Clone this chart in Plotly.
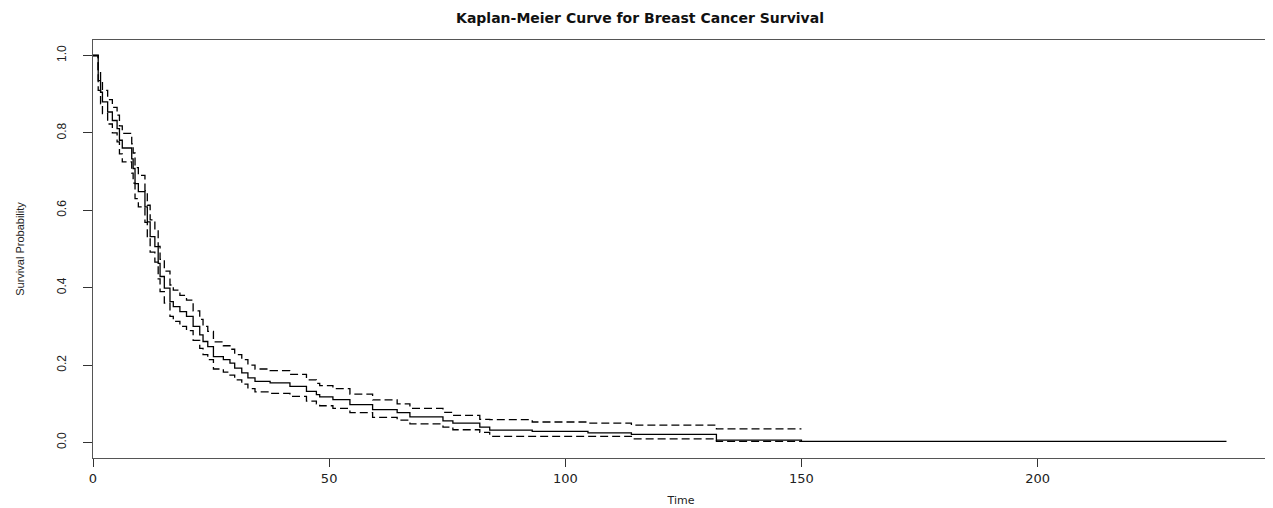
import plotly.graph_objects as go

# Kaplan-Meier estimate (time at which each step happens)
times = [0, 1.1, 1.6, 2.0, 3.1, 4.1, 5.1, 5.6, 6.2, 8.2, 8.5, 8.9, 9.6, 11.0, 11.5, 12.1,
         13.1, 13.8, 14.2, 15.1, 16.3, 17.0, 18.4, 19.8, 21.2, 22.6, 23.3, 24.3, 25.5,
         27.6, 29.0, 30.0, 31.5, 32.8, 34.3, 37.5, 41.7, 45.2, 47.3, 48.0, 50.8, 54.4,
         59.2, 64.4, 67.1, 74.1, 76.2, 81.9, 84.0, 93.0, 104.8, 114.0, 132.0, 150.0]
surv = [1.0, 0.935, 0.905, 0.88, 0.854, 0.832, 0.811, 0.781, 0.761, 0.733, 0.708, 0.669,
        0.648, 0.609, 0.570, 0.532, 0.506, 0.463, 0.429, 0.399, 0.364, 0.351, 0.338, 0.326,
        0.300, 0.278, 0.261, 0.248, 0.222, 0.214, 0.205, 0.192, 0.180, 0.167, 0.158, 0.154,
        0.145, 0.132, 0.124, 0.118, 0.111, 0.098, 0.085, 0.077, 0.066, 0.056, 0.050, 0.040,
        0.032, 0.029, 0.025, 0.021, 0.006, 0.003]
upper = [1.0, 0.96, 0.935, 0.91, 0.886, 0.866, 0.846, 0.818, 0.799, 0.772, 0.748, 0.71,
         0.69, 0.651, 0.613, 0.575, 0.55, 0.507, 0.473, 0.443, 0.407, 0.394, 0.38, 0.368,
         0.34, 0.318, 0.30, 0.287, 0.26, 0.25, 0.241, 0.227, 0.214, 0.20, 0.19, 0.186,
         0.176, 0.162, 0.153, 0.147, 0.139, 0.125, 0.11, 0.10, 0.088, 0.078, 0.07, 0.06,
         0.059, 0.053, 0.05, 0.045, 0.035, 0.035]
lower = [1.0, 0.91, 0.875, 0.85, 0.823, 0.80, 0.777, 0.746, 0.725, 0.696, 0.67, 0.63,
         0.609, 0.569, 0.53, 0.492, 0.466, 0.423, 0.39, 0.36, 0.326, 0.313, 0.30, 0.289,
         0.264, 0.243, 0.227, 0.214, 0.19, 0.182, 0.174, 0.162, 0.151, 0.139, 0.131, 0.127,
         0.119, 0.107, 0.10, 0.095, 0.088, 0.077, 0.065, 0.058, 0.048, 0.04, 0.033, 0.026,
         0.016, 0.016, 0.016, 0.0095, 0.003, 0.003]
end_time = 240
x_ticks = [0, 50, 100, 150, 200]
y_ticks = [0.0, 0.2, 0.4, 0.6, 0.8, 1.0]
y_tick_labels = ["0.0", "0.2", "0.4", "0.6", "0.8", "1.0"]

fig = go.Figure()
fig.add_trace(go.Scatter(x=times + [end_time], y=surv + [surv[-1]], mode="lines",
                         line=dict(shape="hv", color="black", width=1.3),
                         showlegend=False, hoverinfo="skip"))
for ci in (upper, lower):
    fig.add_trace(go.Scatter(x=times, y=ci, mode="lines",
                             line=dict(shape="hv", color="black", width=1.3, dash="8px,4px"),
                             showlegend=False, hoverinfo="skip"))

font = "Liberation Sans, Arial, sans-serif"
wide = "DejaVu Sans, Liberation Sans, sans-serif"
# the page body adds an 8px offset, so the figure is 8px smaller on each axis
fig.update_layout(
    width=1265, height=500,
    margin=dict(l=85, r=4, t=32, b=50, autoexpand=False),
    paper_bgcolor="white", plot_bgcolor="white",
    font=dict(family=font, color="#222222", size=12),
    title=dict(text="<b>Kaplan-Meier Curve for Breast Cancer Survival</b>",
               x=632 / 1265, xanchor="center", xref="container",
               y=1 - 10 / 500, yanchor="middle", yref="container",
               font=dict(size=14, color="#111111", family=wide)),
)
fig.update_xaxes(range=[0, 249], tickvals=x_ticks, ticks="outside", ticklen=8,
                 tickcolor="#333333", showline=True, linecolor="#555555", linewidth=1,
                 mirror=True, showgrid=False, zeroline=False, automargin=False,
                 ticklabelstandoff=0,
                 tickfont=dict(size=13, family=wide),
                 title=dict(text="Time", font=dict(size=11, family=wide), standoff=11))
fig.update_yaxes(range=[-0.04, 1.04], tickvals=y_ticks, ticktext=y_tick_labels,
                 tickangle=-90, ticks="outside", ticklen=9, tickcolor="#333333",
                 ticklabelstandoff=12,
                 showline=True, linecolor="#555555", linewidth=1, mirror=True,
                 showgrid=False, zeroline=False, automargin=False,
                 tickfont=dict(size=12, family=font),
                 title=dict(text="Survival Probability", font=dict(size=11, family=font),
                            standoff=28))

fig.write_html("out.html")
